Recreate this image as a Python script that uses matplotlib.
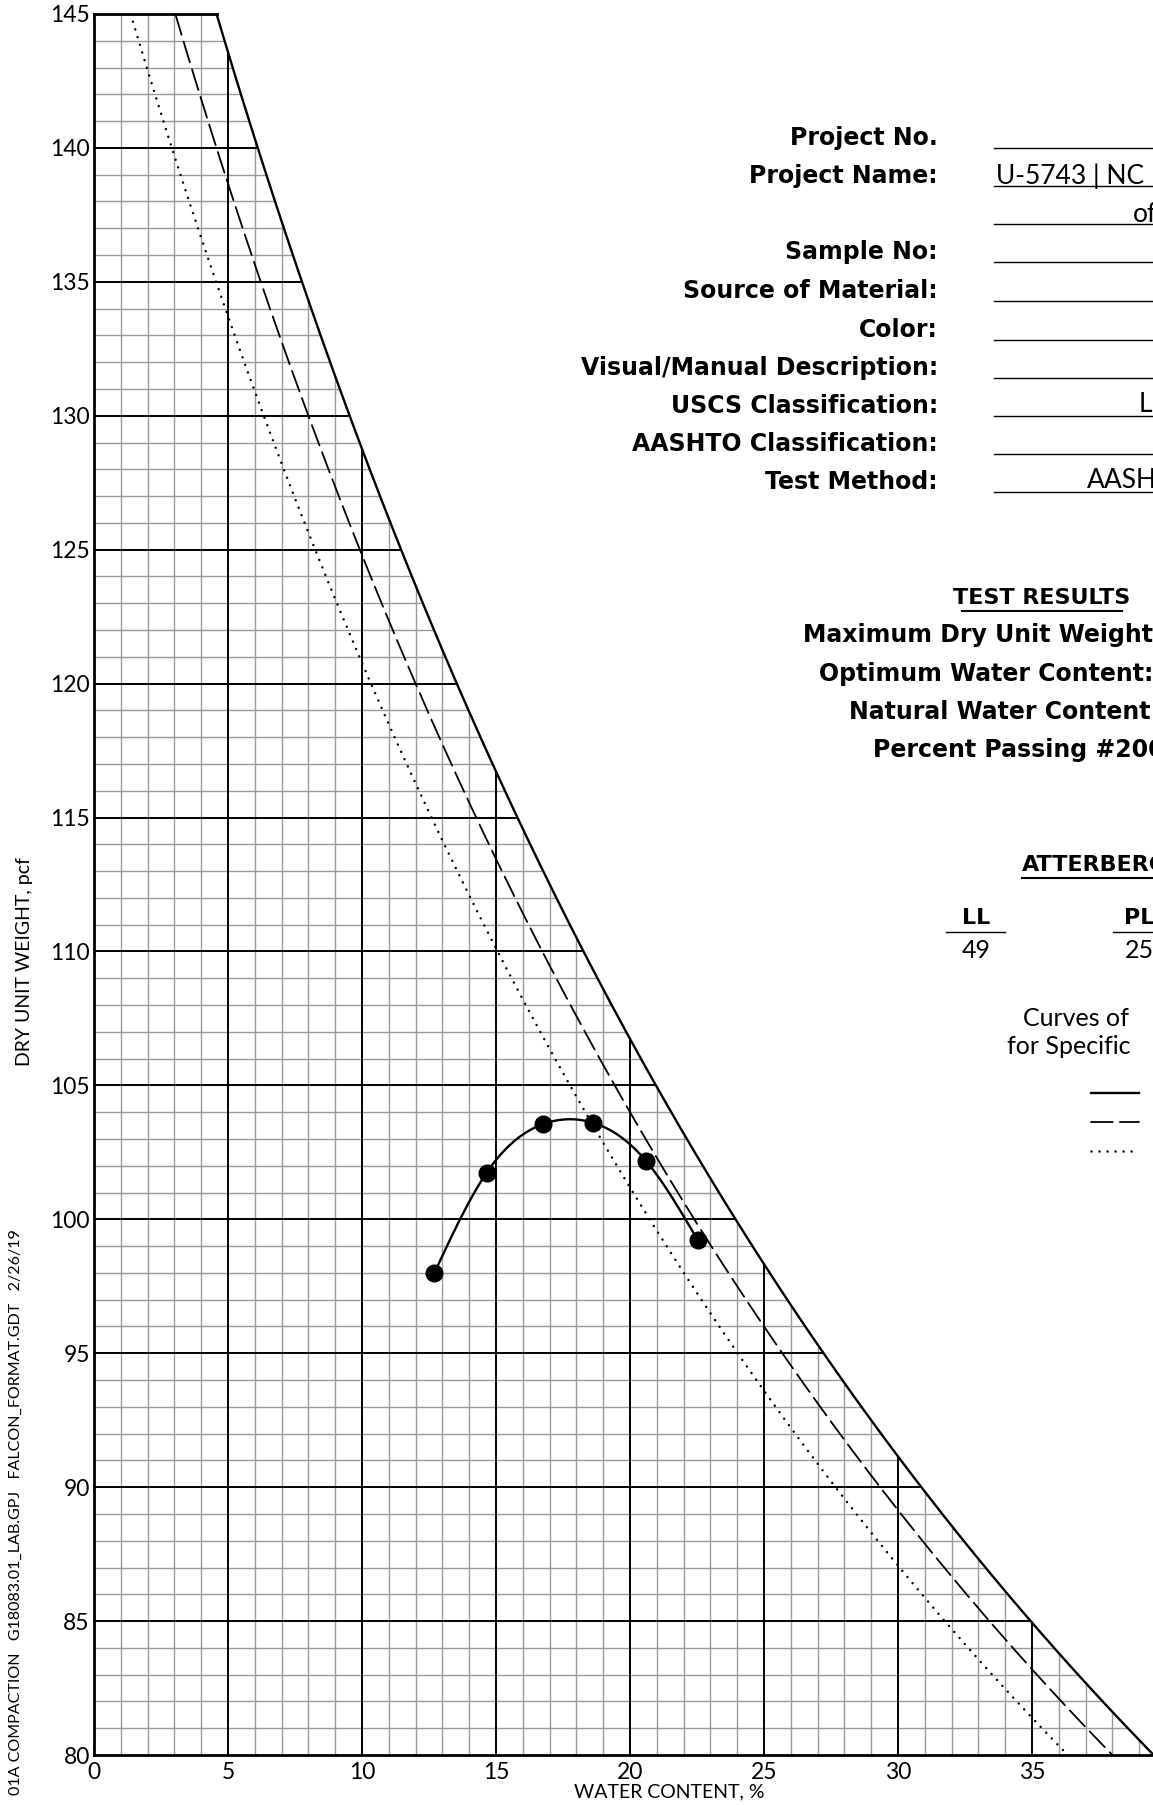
import numpy as np
import matplotlib
matplotlib.use("Agg")
import matplotlib.pyplot as plt
from matplotlib.lines import Line2D

# compaction test points (water content %, dry unit weight pcf)
water_content = [12.70, 14.65, 16.77, 18.63, 20.59, 22.53]
dry_weight = [98.0, 101.74, 103.56, 103.6, 102.19, 99.22]

# specific gravities for the 100% saturation curves
gs_values = [2.60, 2.50, 2.40]
gs_styles = ["-", (0, (12, 4)), (0, (0.01, 3.2))]
gs_widths = [1.7, 1.3, 1.8]
GAMMA_W = 62.4

x_ticks = [0, 5, 10, 15, 20, 25, 30, 35]
y_ticks = [80, 85, 90, 95, 100, 105, 110, 115, 120, 125, 130, 135, 140, 145]

info_labels = ["Project No.", "Project Name:", "", "Sample No:", "Source of Material:",
               "Color:", "Visual/Manual Description:", "USCS Classification:",
               "AASHTO Classification:", "Test Method:"]
result_labels = ["Maximum Dry Unit Weight:", "Optimum Water Content:",
                 "Natural Water Content:", "Percent Passing #200:"]
liquid_limit = "49"
plastic_limit = "25"

FONT = "Lato"
BOLD = "DejaVu Sans"
W, H = 1153, 1805


def zav_weight(w, gs):
    return gs * GAMMA_W / (1 + gs * np.asarray(w) / 100.0)


def zav_water(gd, gs):
    return 100.0 * (GAMMA_W / np.asarray(gd) - 1.0 / gs)


def natural_spline(x, y, xs):
    x = np.asarray(x, float)
    y = np.asarray(y, float)
    n = len(x)
    h = np.diff(x)
    A = np.zeros((n, n))
    r = np.zeros(n)
    A[0, 0] = A[-1, -1] = 1
    for i in range(1, n - 1):
        A[i, i - 1] = h[i - 1]
        A[i, i] = 2 * (h[i - 1] + h[i])
        A[i, i + 1] = h[i]
        r[i] = 3 * ((y[i + 1] - y[i]) / h[i] - (y[i] - y[i - 1]) / h[i - 1])
    c = np.linalg.solve(A, r)
    b = (y[1:] - y[:-1]) / h - h * (2 * c[:-1] + c[1:]) / 3
    d = (c[1:] - c[:-1]) / (3 * h)
    idx = np.clip(np.searchsorted(x, xs) - 1, 0, n - 2)
    dx = xs - x[idx]
    return y[idx] + b[idx] * dx + c[idx] * dx ** 2 + d[idx] * dx ** 3


def fx(px):
    return px / W


def fy(py):
    return 1 - py / H


fig = plt.figure(figsize=(W / 100, H / 100), dpi=100)
ax = fig.add_axes([fx(94), 50 / H, (W - 94) / W, 1741 / H])
xmax = (W - 94) / 26.8
ax.set_xlim(0, xmax)
ax.set_ylim(80, 145)

# grid only under the first saturation curve
gs_max = gs_values[0]
for x in range(1, 40):
    top = min(145, float(zav_weight(x, gs_max)))
    if top <= 80:
        continue
    major = x % 5 == 0
    ax.vlines(x, 80, top, color="black" if major else "#9a9a9a",
              lw=1.4 if major else 1.0, zorder=3 if major else 2)
for y in range(81, 146):
    right = float(zav_water(y, gs_max))
    major = y % 5 == 0
    ax.hlines(y, 0, right, color="black" if major else "#9a9a9a",
              lw=1.4 if major else 1.0, zorder=3 if major else 2)

# saturation curves
for gs, ls, lw in zip(gs_values, gs_styles, gs_widths):
    ws = np.linspace(zav_water(145, gs), zav_water(80, gs), 400)
    ax.plot(ws, zav_weight(ws, gs), color="black", ls=ls, lw=lw,
            dash_capstyle="round", zorder=4)

# compaction curve
xs = np.linspace(water_content[0], water_content[-1], 300)
ax.plot(xs, natural_spline(water_content, dry_weight, xs), color="black", lw=1.7, zorder=5)
ax.plot(water_content, dry_weight, "o", color="black", ms=12, zorder=6)

for side in ["top", "right"]:
    ax.spines[side].set_visible(False)
for side in ["left", "bottom"]:
    ax.spines[side].set_linewidth(2.0)
ax.plot([0, zav_water(145, gs_max)], [145, 145], color="black", lw=2.0,
        clip_on=False, zorder=6)

ax.set_xticks(x_ticks)
ax.set_yticks(y_ticks)
ax.tick_params(axis="x", length=0, pad=5)
ax.tick_params(axis="y", length=0, pad=3)
for lab in ax.get_xticklabels() + ax.get_yticklabels():
    lab.set_fontfamily(FONT)
    lab.set_fontsize(16.5)

fig.text(fx(669), fy(1792), "WATER CONTENT, %", family=FONT, fontsize=14,
         ha="center", va="center")
fig.text(fx(25), fy(961), "DRY UNIT WEIGHT, pcf", family=FONT, fontsize=14,
         rotation=90, ha="center", va="center")
fig.text(fx(16), fy(1795), "01A COMPACTION   G18083.01_LAB.GPJ   FALCON_FORMAT.GDT   2/26/19",
         family=FONT, fontsize=11.5, rotation=90, ha="center", va="bottom")

# project information block
row_y = [138, 176, 214, 252, 291, 330, 368, 406, 444, 482]
for lab, yy in zip(info_labels, row_y):
    if lab:
        fig.text(fx(938), fy(yy), lab, family=BOLD, weight="bold", fontsize=17,
                 ha="right", va="center")
    fig.add_artist(Line2D([fx(994), 1.0], [fy(yy + 10), fy(yy + 10)], color="black", lw=1.0))

fig.text(fx(996), fy(176), "U-5743 | NC", family=FONT, fontsize=19,
         ha="left", va="center")
fig.text(fx(1133), fy(214), "of", family=FONT, fontsize=19,
         ha="left", va="center")
fig.text(fx(1139), fy(404), "L", family=FONT, fontsize=19,
         ha="left", va="center")
fig.text(fx(1087), fy(480), "AASH", family=FONT, fontsize=19,
         ha="left", va="center")

# test results
fig.text(fx(1042), fy(598), "TEST RESULTS", family=BOLD, weight="bold", fontsize=16,
         ha="center", va="center")
fig.add_artist(Line2D([fx(962), fx(1122)], [fy(611), fy(611)], color="black", lw=1.5))
for lab, x0, yy in zip(result_labels, [803, 819, 849, 873], [635, 674, 712, 750]):
    fig.text(fx(x0), fy(yy), lab, family=BOLD, weight="bold", fontsize=17,
             ha="left", va="center")

# atterberg limits
fig.text(fx(1022), fy(865), "ATTERBERG", family=BOLD, weight="bold", fontsize=16,
         ha="left", va="center")
fig.add_artist(Line2D([fx(1022), 1.0], [fy(878), fy(878)], color="black", lw=1.5))
for lab, val, xc, x1, x2 in [("LL", liquid_limit, 976, 946, 1005),
                              ("PL", plastic_limit, 1139, 1113, 1170)]:
    fig.text(fx(xc), fy(918), lab, family=BOLD, weight="bold", fontsize=16,
             ha="center", va="center")
    fig.add_artist(Line2D([fx(x1), fx(x2)], [fy(932), fy(932)], color="black", lw=1.0))
    fig.text(fx(xc), fy(950), val, family=FONT, fontsize=18,
             ha="center", va="center")

fig.text(fx(1023), fy(1018), "Curves of", family=FONT,
         fontsize=18, ha="left", va="center")
fig.text(fx(1007), fy(1047), "for Specific", family=FONT,
         fontsize=18, ha="left", va="center")
for ls, lw, yy in zip(gs_styles, gs_widths, [1093, 1122, 1151]):
    fig.add_artist(Line2D([fx(1091), fx(1139)], [fy(yy), fy(yy)], color="black", ls=ls,
                          lw=lw, dash_capstyle="round"))

fig.savefig("out.png", dpi=100)
